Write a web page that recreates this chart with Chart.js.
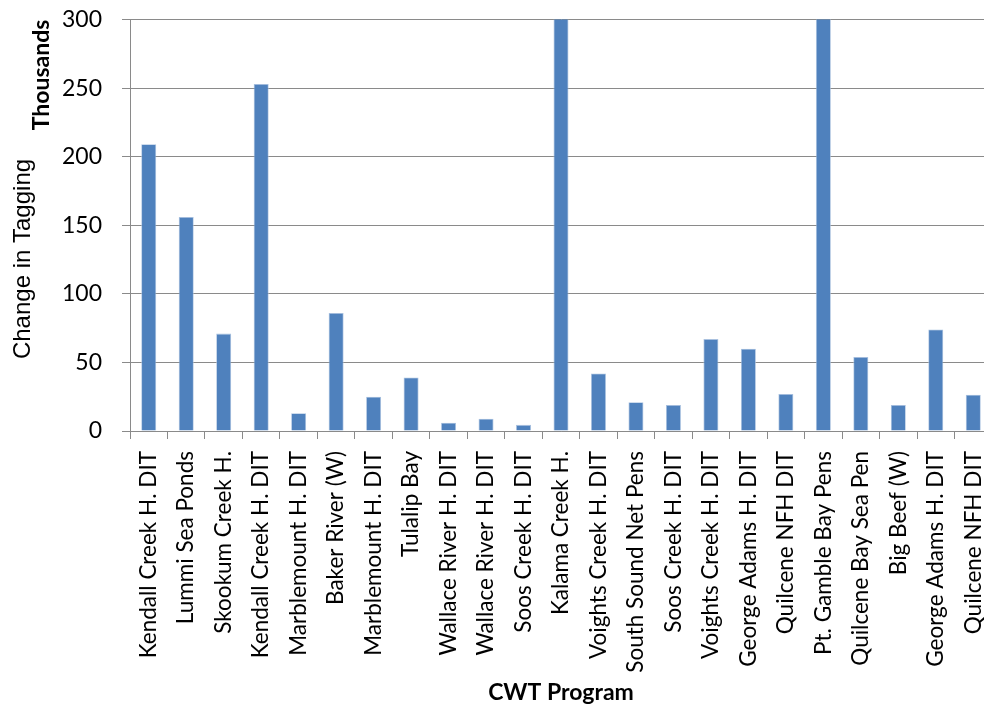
<!DOCTYPE html>
<html>
<head>
<meta charset="utf-8">
<script src="https://cdn.jsdelivr.net/npm/chart.js@4"></script>
<style>
  html, body { margin: 0; padding: 0; background: #fff; overflow: hidden; }
  #wrap { width: 1012px; height: 707px; }
</style>
</head>
<body>
<div id="wrap"><canvas id="c" width="1012" height="707"></canvas></div>
<script>
// CWT programs (x-axis categories)
const programs = [
  "Kendall Creek H. DIT", "Lummi Sea Ponds", "Skookum Creek H.", "Kendall Creek H. DIT",
  "Marblemount H. DIT", "Baker River (W)", "Marblemount H. DIT", "Tulalip Bay",
  "Wallace River H. DIT", "Wallace River H. DIT", "Soos Creek H. DIT", "Kalama Creek H.",
  "Voights Creek H. DIT", "South Sound Net Pens", "Soos Creek H. DIT", "Voights Creek H. DIT",
  "George Adams H. DIT", "Quilcene NFH DIT", "Pt. Gamble Bay Pens", "Quilcene Bay Sea Pen",
  "Big Beef (W)", "George Adams H. DIT", "Quilcene NFH DIT"
];

// Change in tagging, thousands of fish
const tagChange = [
  209, 156, 71, 253,
  13, 86, 25, 39,
  6, 9, 4.5, 340,
  42, 21, 19, 67,
  60, 27, 330, 54,
  19, 74, 26.5
];

// Y-axis range and step (thousands)
const yTicks = { min: 0, max: 300, step: 50 };

const FONT = "Lato, 'Open Sans', sans-serif";
const SANS = "'Liberation Sans', Arial, sans-serif";
const GRID = "#8a8a8a";

const axisTitles = {
  id: "axisTitles",
  afterDraw(chart) {
    const ctx = chart.ctx;
    ctx.save();
    ctx.fillStyle = "#000";
    ctx.textAlign = "center";
    ctx.textBaseline = "middle";

    ctx.save();
    ctx.translate(23, 259);
    ctx.rotate(-Math.PI / 2);
    ctx.font = "24px " + SANS;
    ctx.fillText("Change in Tagging", 0, 0);
    ctx.restore();

    ctx.save();
    ctx.translate(42, 75);
    ctx.rotate(-Math.PI / 2);
    ctx.font = "bold 23px " + FONT;
    ctx.fillText("Thousands", 0, 0);
    ctx.restore();

    ctx.font = "bold 23px " + FONT;
    ctx.fillText("CWT Program", 561, 693);
    ctx.restore();
  }
};

new Chart(document.getElementById("c"), {
  type: "bar",
  data: {
    labels: programs,
    datasets: [{
      data: tagChange,
      backgroundColor: "#4f81bd",
      borderColor: "#a9c1df",
      borderWidth: 0.8,
      barPercentage: 0.4,
      categoryPercentage: 1.0
    }]
  },
  options: {
    responsive: false,
    devicePixelRatio: 1,
    animation: false,
    layout: { padding: { top: 19.5, right: 20, left: 0, bottom: 0 } },
    plugins: {
      legend: { display: false },
      tooltip: { enabled: false }
    },
    scales: {
      x: {
        grid: { drawOnChartArea: false, drawTicks: true, tickLength: 8, color: GRID, offset: true },
        border: { color: GRID, width: 1 },
        ticks: {
          autoSkip: false, maxRotation: 90, minRotation: 90,
          color: "#000", padding: 12,
          font: { family: FONT, size: 22.5 }
        },
        afterFit(s) { s.height = 276; s.paddingLeft = 0; s.paddingRight = 0; }
      },
      y: {
        min: yTicks.min, max: yTicks.max,
        grid: { color: GRID, tickLength: 8, lineWidth: 1 },
        border: { color: GRID, width: 1 },
        ticks: {
          stepSize: yTicks.step, color: "#000", padding: 20,
          font: { family: FONT, size: 23 }
        },
        afterFit(s) { s.width = 130; s.paddingTop = 0; s.paddingBottom = 0; }
      }
    }
  },
  plugins: [axisTitles]
});
</script>
</body>
</html>
